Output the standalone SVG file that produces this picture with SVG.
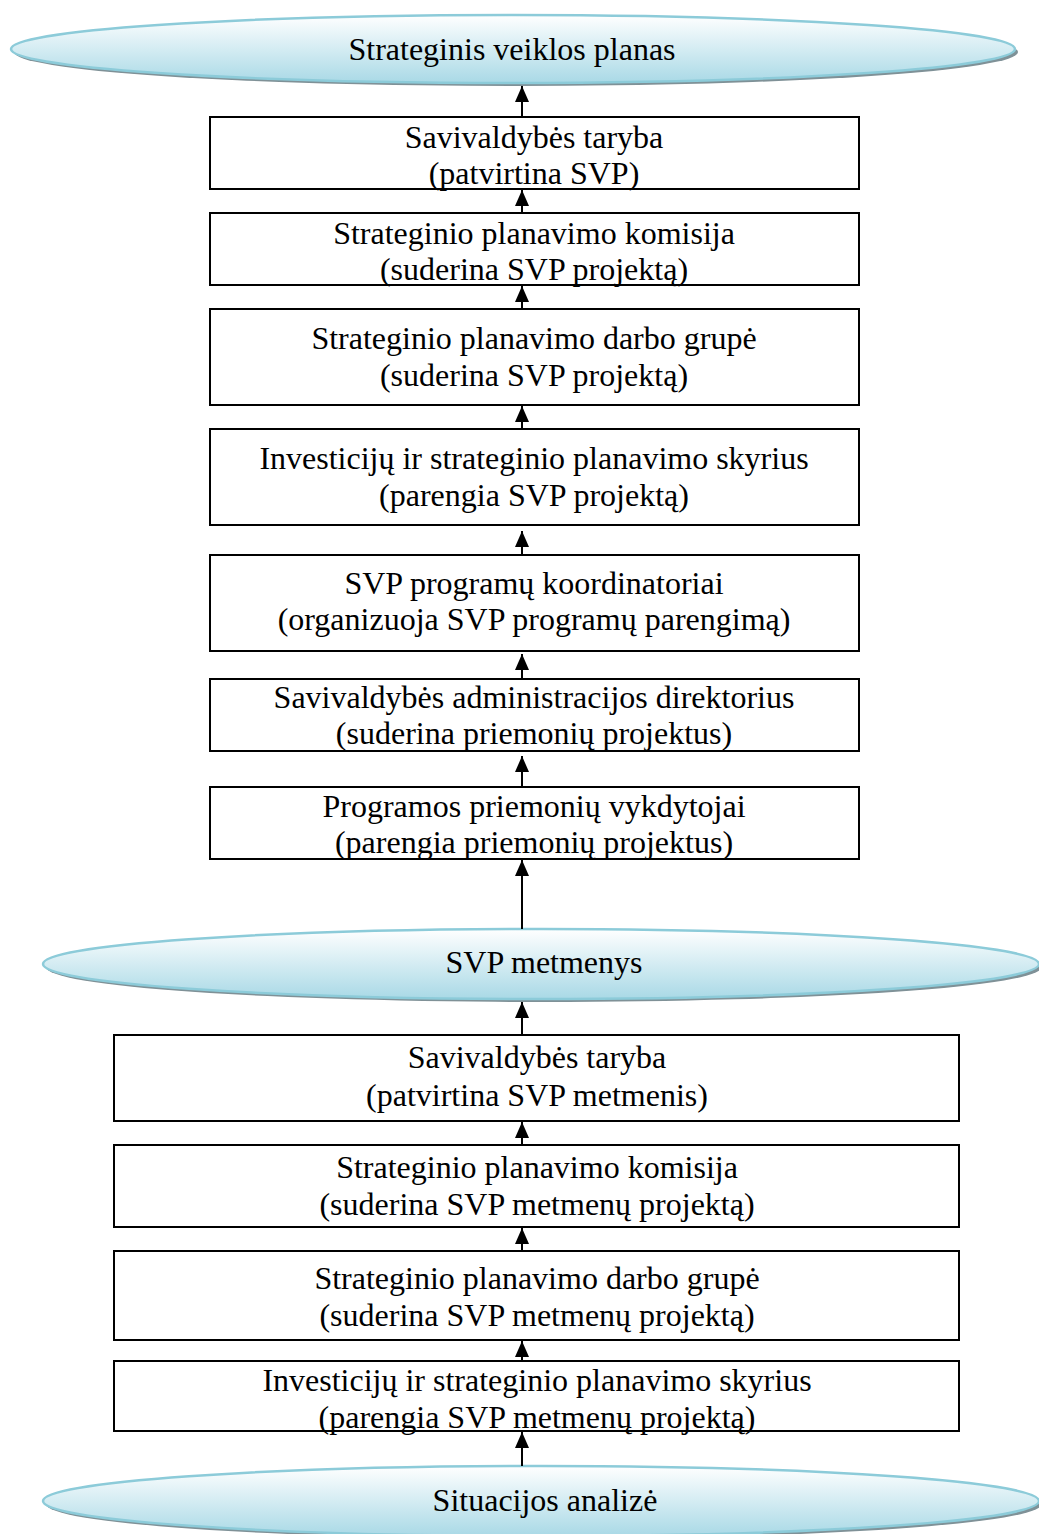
<svg xmlns="http://www.w3.org/2000/svg" width="1039" height="1534" viewBox="0 0 1039 1534">
<style>
.box{fill:#fff;stroke:#000;stroke-width:2}
.t{font-family:"Liberation Serif","Times New Roman",serif;font-size:32px;fill:#000;text-anchor:middle}
.ell{fill:url(#g);stroke:#8ccbd9;stroke-width:2.5}
.sh{fill:#7f9197}
.c{stroke:#000;stroke-width:2;fill:none;marker-end:url(#ah)}
</style>
<defs>
<linearGradient id="g" x1="0" y1="0" x2="0" y2="1">
<stop offset="0" stop-color="#ffffff"/>
<stop offset="1" stop-color="#a9d9e6"/>
</linearGradient>
<marker id="ah" markerWidth="16" markerHeight="14" refX="16" refY="7" orient="auto" markerUnits="userSpaceOnUse" viewBox="0 0 16 14">
<path d="M0,0 L16,7 L0,14 Z" fill="#000"/>
</marker>
</defs>
<g id="e1">
<ellipse class="sh" cx="516" cy="52" rx="502" ry="34"/>
<ellipse class="ell" cx="513" cy="49" rx="502" ry="34"/>
<text class="t" x="512" y="60">Strateginis veiklos planas</text>
</g>
<g id="n1">
<rect class="box" x="210" y="117" width="649" height="72"/>
<text class="t" x="534" y="148">Savivaldybės taryba</text>
<text class="t" x="534" y="184">(patvirtina SVP)</text>
</g>
<g id="n2">
<rect class="box" x="210" y="213" width="649" height="72"/>
<text class="t" x="534" y="244">Strateginio planavimo komisija</text>
<text class="t" x="534" y="280">(suderina SVP projektą)</text>
</g>
<g id="n3">
<rect class="box" x="210" y="309" width="649" height="96"/>
<text class="t" x="534" y="349">Strateginio planavimo darbo grupė</text>
<text class="t" x="534" y="386">(suderina SVP projektą)</text>
</g>
<g id="n4">
<rect class="box" x="210" y="429" width="649" height="96"/>
<text class="t" x="534" y="469">Investicijų ir strateginio planavimo skyrius</text>
<text class="t" x="534" y="506">(parengia SVP projektą)</text>
</g>
<g id="n5">
<rect class="box" x="210" y="555" width="649" height="96"/>
<text class="t" x="534" y="594">SVP programų koordinatoriai</text>
<text class="t" x="534" y="630">(organizuoja SVP programų parengimą)</text>
</g>
<g id="n6">
<rect class="box" x="210" y="679" width="649" height="72"/>
<text class="t" x="534" y="708">Savivaldybės administracijos direktorius</text>
<text class="t" x="534" y="744">(suderina priemonių projektus)</text>
</g>
<g id="n7">
<rect class="box" x="210" y="787" width="649" height="72"/>
<text class="t" x="534" y="817">Programos priemonių vykdytojai</text>
<text class="t" x="534" y="853">(parengia priemonių projektus)</text>
</g>
<g id="e2">
<ellipse class="sh" cx="544" cy="967" rx="498" ry="35"/>
<ellipse class="ell" cx="541" cy="964" rx="498" ry="35"/>
<text class="t" x="544" y="973">SVP metmenys</text>
</g>
<g id="n8">
<rect class="box" x="114" y="1035" width="845" height="86"/>
<text class="t" x="537" y="1068">Savivaldybės taryba</text>
<text class="t" x="537" y="1106">(patvirtina SVP metmenis)</text>
</g>
<g id="n9">
<rect class="box" x="114" y="1145" width="845" height="82"/>
<text class="t" x="537" y="1178">Strateginio planavimo komisija</text>
<text class="t" x="537" y="1215">(suderina SVP metmenų projektą)</text>
</g>
<g id="n10">
<rect class="box" x="114" y="1251" width="845" height="89"/>
<text class="t" x="537" y="1289">Strateginio planavimo darbo grupė</text>
<text class="t" x="537" y="1326">(suderina SVP metmenų projektą)</text>
</g>
<g id="n11">
<rect class="box" x="114" y="1361" width="845" height="70"/>
<text class="t" x="537" y="1391">Investicijų ir strateginio planavimo skyrius</text>
<text class="t" x="537" y="1428">(parengia SVP metmenų projektą)</text>
</g>
<g id="e3">
<ellipse class="sh" cx="544" cy="1504" rx="498" ry="35"/>
<ellipse class="ell" cx="541" cy="1501" rx="498" ry="35"/>
<text class="t" x="545" y="1511">Situacijos analizė</text>
</g>
<g id="connectors">
<line class="c" x1="522" y1="116" x2="522" y2="86"/>
<line class="c" x1="522" y1="212" x2="522" y2="190"/>
<line class="c" x1="522" y1="308" x2="522" y2="286"/>
<line class="c" x1="522" y1="428" x2="522" y2="406"/>
<line class="c" x1="522" y1="554" x2="522" y2="531"/>
<line class="c" x1="522" y1="678" x2="522" y2="654"/>
<line class="c" x1="522" y1="786" x2="522" y2="756"/>
<line class="c" x1="522" y1="929" x2="522" y2="860"/>
<line class="c" x1="522" y1="1034" x2="522" y2="1002"/>
<line class="c" x1="522" y1="1144" x2="522" y2="1122"/>
<line class="c" x1="522" y1="1250" x2="522" y2="1228"/>
<line class="c" x1="522" y1="1360" x2="522" y2="1341"/>
<line class="c" x1="522" y1="1466" x2="522" y2="1432"/>
</g>
</svg>
